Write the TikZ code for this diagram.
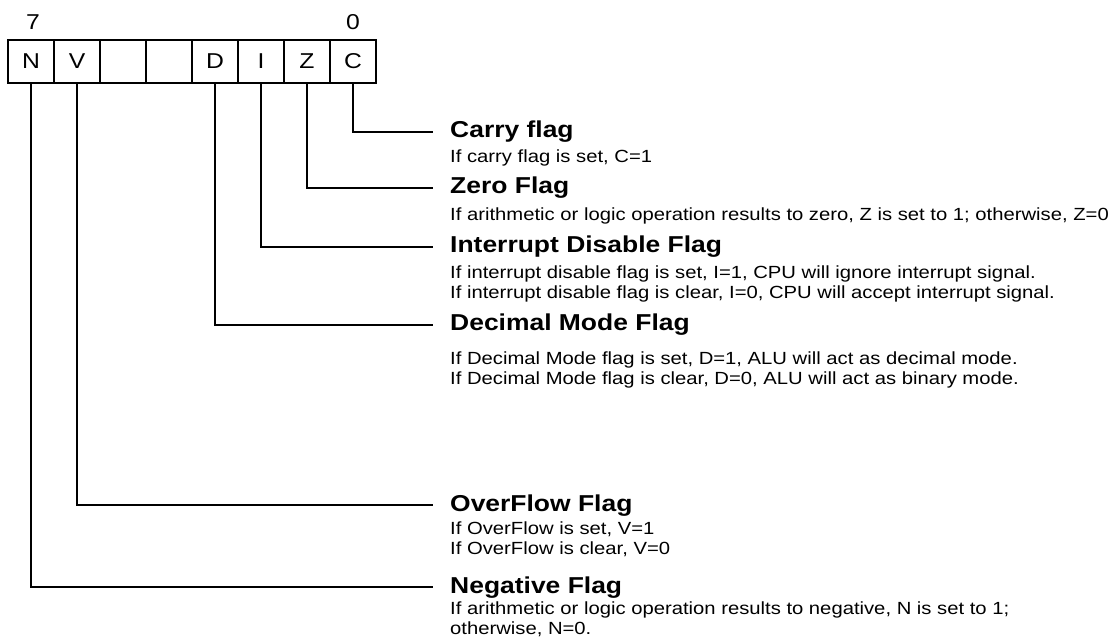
\documentclass[tikz,border=0pt]{standalone}
\usepackage{fontspec}
\setmainfont{Liberation Sans}[FakeStretch=1.15]
\usetikzlibrary{positioning}

\tikzset{
  bitcell/.style={draw, line width=2pt, minimum width=46pt, minimum height=43pt,
    inner sep=0pt, outer sep=0pt, font=\fontsize{21.5}{24}\selectfont},
  bitnum/.style={inner sep=0pt, font=\fontsize{21.5}{24}\selectfont},
  wire/.style={line width=2pt, shorten >=17pt},
  flagtitle/.style={anchor=west, inner sep=0pt, text height=12pt, text depth=0pt,
    font=\bfseries\fontsize{23}{26}\selectfont},
  flagdesc/.style={anchor=north west, inner sep=0pt, align=left,
    font=\fontsize{17.6}{20.5}\selectfont}
}

\begin{document}
\begin{tikzpicture}[x=1pt, y=-1pt]

        \useasboundingbox (0, 0) rectangle (1117, 644);

        % Status register
        \node [bitcell] (N) at (31, 61.5) {N};
        \node [bitcell, right=0pt of N] (V) {V};
        \node [bitcell, right=0pt of V] (b5) {};
        \node [bitcell, right=0pt of b5] (b4) {};
        \node [bitcell, right=0pt of b4] (D) {D};
        \node [bitcell, right=0pt of D] (I) {I};
        \node [bitcell, right=0pt of I] (Z) {Z};
        \node [bitcell, right=0pt of Z] (C) {C};

        %% Bit numbers
        \node [bitnum] (msb) at (33, 22) {7};
        \node [bitnum] (lsb) at (353, 22) {0};

        % Carry flag
        \node [flagtitle] (carry) at (450, 132) {Carry flag};
        \node [flagdesc] (carrytxt) at (450, 149.5) {If carry flag is set, C=1};
        \draw [wire] (C.south) |- (carry.west);

        % Zero flag
        \node [flagtitle] (zero) at (450, 188) {Zero Flag};
        \node [flagdesc] (zerotxt) at (450, 207.5)
            {If arithmetic or logic operation results to zero, Z is set to 1; otherwise, Z=0};
        \draw [wire] (Z.south) |- (zero.west);

        % Interrupt disable flag
        \node [flagtitle] (intr) at (450, 247) {Interrupt Disable Flag};
        \node [flagdesc] (intrtxt) at (450, 265.5)
            {If interrupt disable flag is set, I=1, CPU will ignore interrupt signal.\\
             If interrupt disable flag is clear, I=0, CPU will accept interrupt signal.};
        \draw [wire] (I.south) |- (intr.west);

        % Decimal mode flag
        \node [flagtitle] (dec) at (450, 325) {Decimal Mode Flag};
        \node [flagdesc] (dectxt) at (450, 351.5)
            {If Decimal Mode flag is set, D=1, ALU will act as decimal mode.\\
             If Decimal Mode flag is clear, D=0, ALU will act as binary mode.};
        \draw [wire] (D.south) |- (dec.west);

        % Overflow flag
        \node [flagtitle] (ovf) at (450, 505) {OverFlow Flag};
        \node [flagdesc] (ovftxt) at (450, 521.5)
            {If OverFlow is set, V=1\\
             If OverFlow is clear, V=0};
        \draw [wire] (V.south) |- (ovf.west);

        % Negative flag
        \node [flagtitle] (neg) at (450, 587) {Negative Flag};
        \node [flagdesc] (negtxt) at (450, 601.5)
            {If arithmetic or logic operation results to negative, N is set to 1;\\
             otherwise, N=0.};
        \draw [wire] (N.south) |- (neg.west);

    \end{tikzpicture}
\end{document}
